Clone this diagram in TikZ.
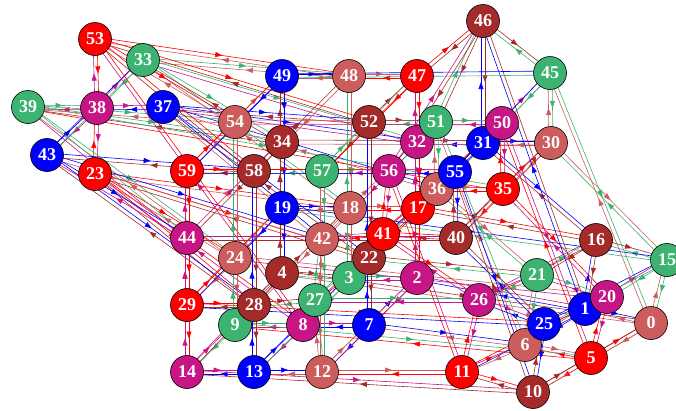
\documentclass[tikz,border=0pt]{standalone}
\usepackage{fontspec}
\setmainfont{Liberation Serif}
\usetikzlibrary{arrows.meta,calc,backgrounds,decorations.markings}
\definecolor{c0}{HTML}{CD5C5C}
\definecolor{c1}{HTML}{0000FF}
\definecolor{c2}{HTML}{C71585}
\definecolor{c3}{HTML}{3CB371}
\definecolor{c4}{HTML}{A52A2A}
\definecolor{c5}{HTML}{FF0000}
\begin{document}
\begin{tikzpicture}[x=1pt,y=-1pt,
  vx/.style={circle,draw=black,line width=0.6pt,minimum size=33pt,inner sep=0pt,
             text=white,font=\fontsize{18}{18}\selectfont\bfseries},
  ar/.style={line width=0.6pt,postaction={decorate},
             decoration={markings,mark=at position 0.5 with
               {\arrow{Triangle[length=7pt,width=5pt]}}}}]
\useasboundingbox (0,0) rectangle (676,410);
\foreach \n/\x/\y in {0/651/323,1/585/309,2/417/278,3/349/278,4/282/273,
    5/591/358,6/525/345,7/369/325,8/303/325,9/235/325,
    10/533/392,11/462/372,12/322/372,13/254/372,14/187/372,
    15/667/260,16/596/240,17/418/208,18/350/208,19/282/208,
    20/607/297,21/537/275,22/369/258,23/95/174,24/235/258,
    25/544/324,26/479/300,27/315/300,28/254/305,29/187/305,
    30/551/143,31/483/143,32/417/142,33/143/60,34/282/142,
    35/503/189,36/437/189,37/163/107,38/97/108,39/28/107,
    40/456/238,41/383/234,42/322/239,43/47/155,44/187/238,
    45/550/73,46/483/21,47/417/76,48/349/76,49/282/76,
    50/502/123,51/436/122,52/369/122,53/95/39,54/235/122,
    55/455/172,56/389/171,57/322/171,58/254/171,59/187/171}{
  \pgfmathtruncatemacro\k{mod(\n,6)}
  \node[vx,fill=c\k] (v\n) at (\x,\y) {\n};}
% 5 x 3 x 4 torus, one line each way
\begin{scope}[on background layer]
\foreach \n in {0,...,59}{
  \pgfmathtruncatemacro\px{\n-mod(\n,5)+mod(\n+1,5)}
  \pgfmathtruncatemacro\py{\n+5*(mod(int(\n/5)+1,3)-mod(int(\n/5),3))}
  \pgfmathtruncatemacro\pz{mod(\n+15,60)}
  \edef\nbrs{\px,\py,\pz}
  \foreach \m in \nbrs{
    \pgfmathtruncatemacro\ka{mod(\n,6)}
    \pgfmathtruncatemacro\kb{mod(\m,6)}
    \draw[ar,color=c\ka] ($(v\n)!2pt!90:(v\m)$) -- ($(v\m)!2pt!-90:(v\n)$);
    \draw[ar,color=c\kb] ($(v\m)!2pt!90:(v\n)$) -- ($(v\n)!2pt!-90:(v\m)$);}}
\end{scope}
\end{tikzpicture}
\end{document}
